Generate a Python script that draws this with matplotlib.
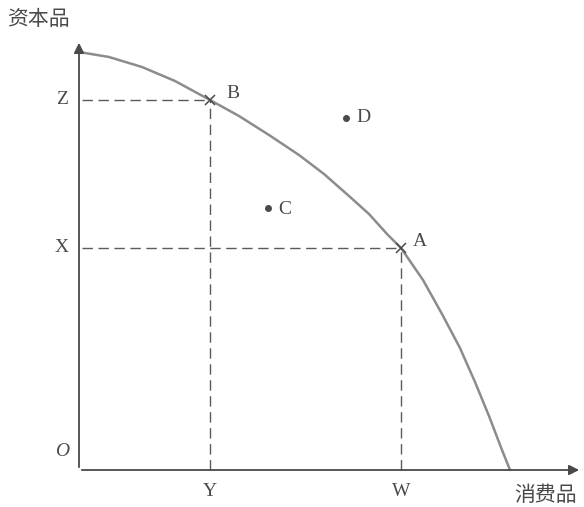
import matplotlib.pyplot as plt

plt.rcParams['font.family'] = ['Liberation Serif', 'Noto Sans CJK SC', 'DejaVu Sans']

# frontier (consumer goods, capital goods)
curve_x = [0, 30, 63, 96, 131, 160, 190, 220, 245, 270, 290, 308, 322, 344, 363, 381, 396, 410, 423, 431]
curve_y = [418, 413, 403, 389, 370, 354, 335, 315, 296, 274, 256, 236, 222, 190, 156, 122, 88, 54, 20, 0]

pt_A = (322, 222)
pt_B = (131, 370)
pt_C = (189, 262)
pt_D = (267, 352)

x_ticks = {'Y': pt_B[0], 'W': pt_A[0]}
y_ticks = {'Z': pt_B[1], 'X': pt_A[1]}

grey = '#8c8c8c'
ink = '#4a4a4a'

fig = plt.figure(figsize=(5.84, 5.07), dpi=100)
ax = fig.add_axes([0, 0, 1, 1])
ax.set_xlim(-79, 505)
ax.set_ylim(-37, 470)
ax.axis('off')

# axes with arrows
ax.annotate('', xy=(503, 0), xytext=(0, 0),
            arrowprops=dict(arrowstyle='-|>', color=ink, lw=1.3, mutation_scale=15))
ax.annotate('', xy=(0, 430), xytext=(0, 0),
            arrowprops=dict(arrowstyle='-|>', color=ink, lw=1.3, mutation_scale=15))

# frontier
ax.plot(curve_x, curve_y, color=grey, lw=1.8, solid_joinstyle='round', solid_capstyle='round')

# dashed guides
dash = dict(color='#5a5a5a', lw=1.0, dashes=(7.5, 4))
ax.plot([3, pt_B[0]], [pt_B[1], pt_B[1]], **dash)
ax.plot([pt_B[0], pt_B[0]], [0, pt_B[1]], **dash)
ax.plot([3, pt_A[0]], [pt_A[1], pt_A[1]], **dash)
ax.plot([pt_A[0], pt_A[0]], [0, pt_A[1]], **dash)

# points
ax.plot(*pt_A, marker='x', ms=7, mew=1.1, color=ink)
ax.plot(*pt_B, marker='x', ms=7, mew=1.1, color=ink)
ax.plot(*pt_C, marker='o', ms=4, color=ink)
ax.plot(*pt_D, marker='o', ms=4, color=ink)

fs = 14
ax.text(pt_A[0] + 12, pt_A[1] + 6, 'A', fontsize=fs, color=ink, va='center')
ax.text(pt_B[0] + 16, pt_B[1] + 6, 'B', fontsize=fs, color=ink, va='center')
ax.text(pt_C[0] + 10, pt_C[1] - 2, 'C', fontsize=fs, color=ink, va='center')
ax.text(pt_D[0] + 10, pt_D[1], 'D', fontsize=fs, color=ink, va='center')

for lab, v in y_ticks.items():
    ax.text(-17, v, lab, fontsize=fs, color=ink, va='center', ha='center')
for lab, v in x_ticks.items():
    ax.text(v, -22, lab, fontsize=fs, color=ink, va='center', ha='center')
ax.text(-17, 18, 'O', fontsize=fs, color=ink, va='center', ha='center', style='italic')

ax.text(-41, 450, '资本品', fontsize=15, color=ink, va='center', ha='center')
ax.text(467, -26, '消费品', fontsize=15, color=ink, va='center', ha='center')

fig.savefig('out.png', dpi=100)
